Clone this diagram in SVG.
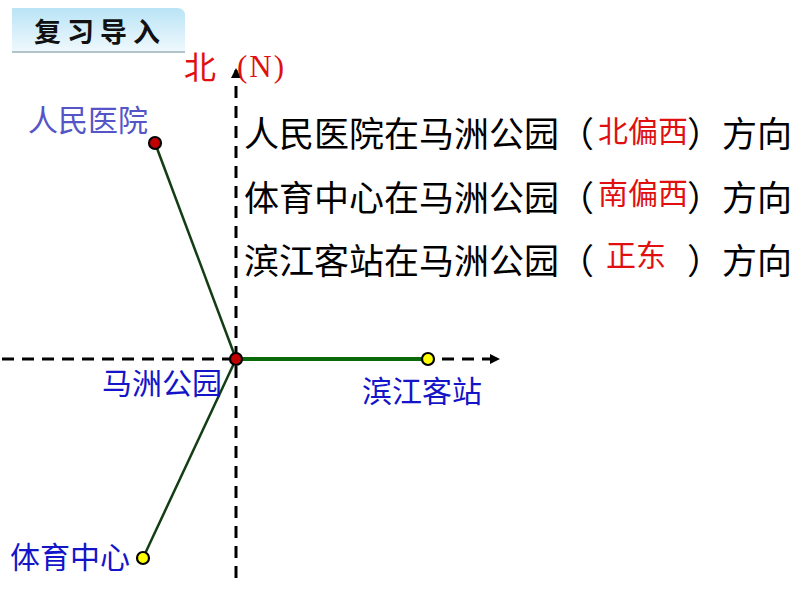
<svg xmlns="http://www.w3.org/2000/svg" width="794" height="596" viewBox="0 0 794 596">
<style>
.cjk{font-family:"Noto Sans CJK SC","Noto Sans",sans-serif;}
.lbl{font-size:30px;fill:#1414c8;}
.q{font-size:35px;fill:#000;}
.ans{font-size:30px;fill:#e01010;}
.axis{stroke:#000;stroke-width:3;stroke-dasharray:12 8;fill:none;}
.seg{stroke:#133d13;stroke-width:2.5;fill:none;}
.dotr{fill:#c00000;stroke:#000;stroke-width:2.2;}
.doty{fill:#ffff00;stroke:#000;stroke-width:2.2;}
</style>
<defs>
<linearGradient id="tg" x1="0" y1="0" x2="0" y2="1">
<stop offset="0" stop-color="#b9e4f6"/>
<stop offset="1" stop-color="#f0f9fd"/>
</linearGradient>
<marker id="ah" markerWidth="10" markerHeight="10" refX="8" refY="5" orient="auto" markerUnits="userSpaceOnUse">
<path d="M0,0 L10,5 L0,10 Z" fill="#000"/>
</marker>
</defs>
<rect width="794" height="596" fill="#fff"/>
<g id="title">
<path d="M12,52 L12,8 L177,8 Q185,8 185,16 L185,52 Z" fill="url(#tg)"/>
<line x1="12" y1="52" x2="185" y2="52" stroke="#9ab0b8" stroke-width="1.5"/>
<text x="100" y="42" class="cjk" font-size="27" font-weight="bold" text-anchor="middle" letter-spacing="6" fill="#111">复习导入</text>
</g>
<g id="connectors">
<line class="axis" x1="236" y1="578" x2="236" y2="70" marker-end="url(#ah)"/>
<line class="axis" x1="2" y1="359" x2="498" y2="359" marker-end="url(#ah)"/>
<line class="seg" x1="155" y1="143" x2="236" y2="359"/>
<line class="seg" x1="236" y1="359" x2="143" y2="558"/>
<line x1="236" y1="359" x2="428" y2="359" stroke="#0a6a0a" stroke-width="4"/>
</g>
<g id="north">
<text x="184" y="79" class="cjk" font-size="32" fill="#e01010">北</text>
<text x="237" y="77" font-family="Liberation Serif,serif" font-size="31" fill="#e01010" letter-spacing="2">(N)</text>
</g>
<g id="hospital">
<circle class="dotr" cx="155" cy="143" r="6"/>
<text x="28" y="131" class="cjk lbl" style="fill:#5555c8">人民医院</text>
</g>
<g id="park">
<circle class="dotr" cx="236" cy="359" r="6"/>
<text x="102" y="394" class="cjk lbl">马洲公园</text>
</g>
<g id="station">
<circle class="doty" cx="428" cy="359" r="6"/>
<text x="362" y="402" class="cjk lbl">滨江客站</text>
</g>
<g id="sports">
<circle class="doty" cx="143" cy="558" r="6"/>
<text x="10" y="568" class="cjk lbl">体育中心</text>
</g>
<g id="questions">
<text x="244" y="147" class="cjk q">人民医院在马洲公园（</text>
<text x="598" y="142" class="cjk ans">北偏西</text>
<text x="687" y="147" class="cjk q">）方向</text>
<text x="244" y="211" class="cjk q">体育中心在马洲公园（</text>
<text x="598" y="204" class="cjk ans">南偏西</text>
<text x="687" y="211" class="cjk q">）方向</text>
<text x="244" y="274" class="cjk q">滨江客站在马洲公园（</text>
<text x="606" y="266" class="cjk ans">正东</text>
<text x="687" y="274" class="cjk q">）方向</text>
</g>
</svg>
